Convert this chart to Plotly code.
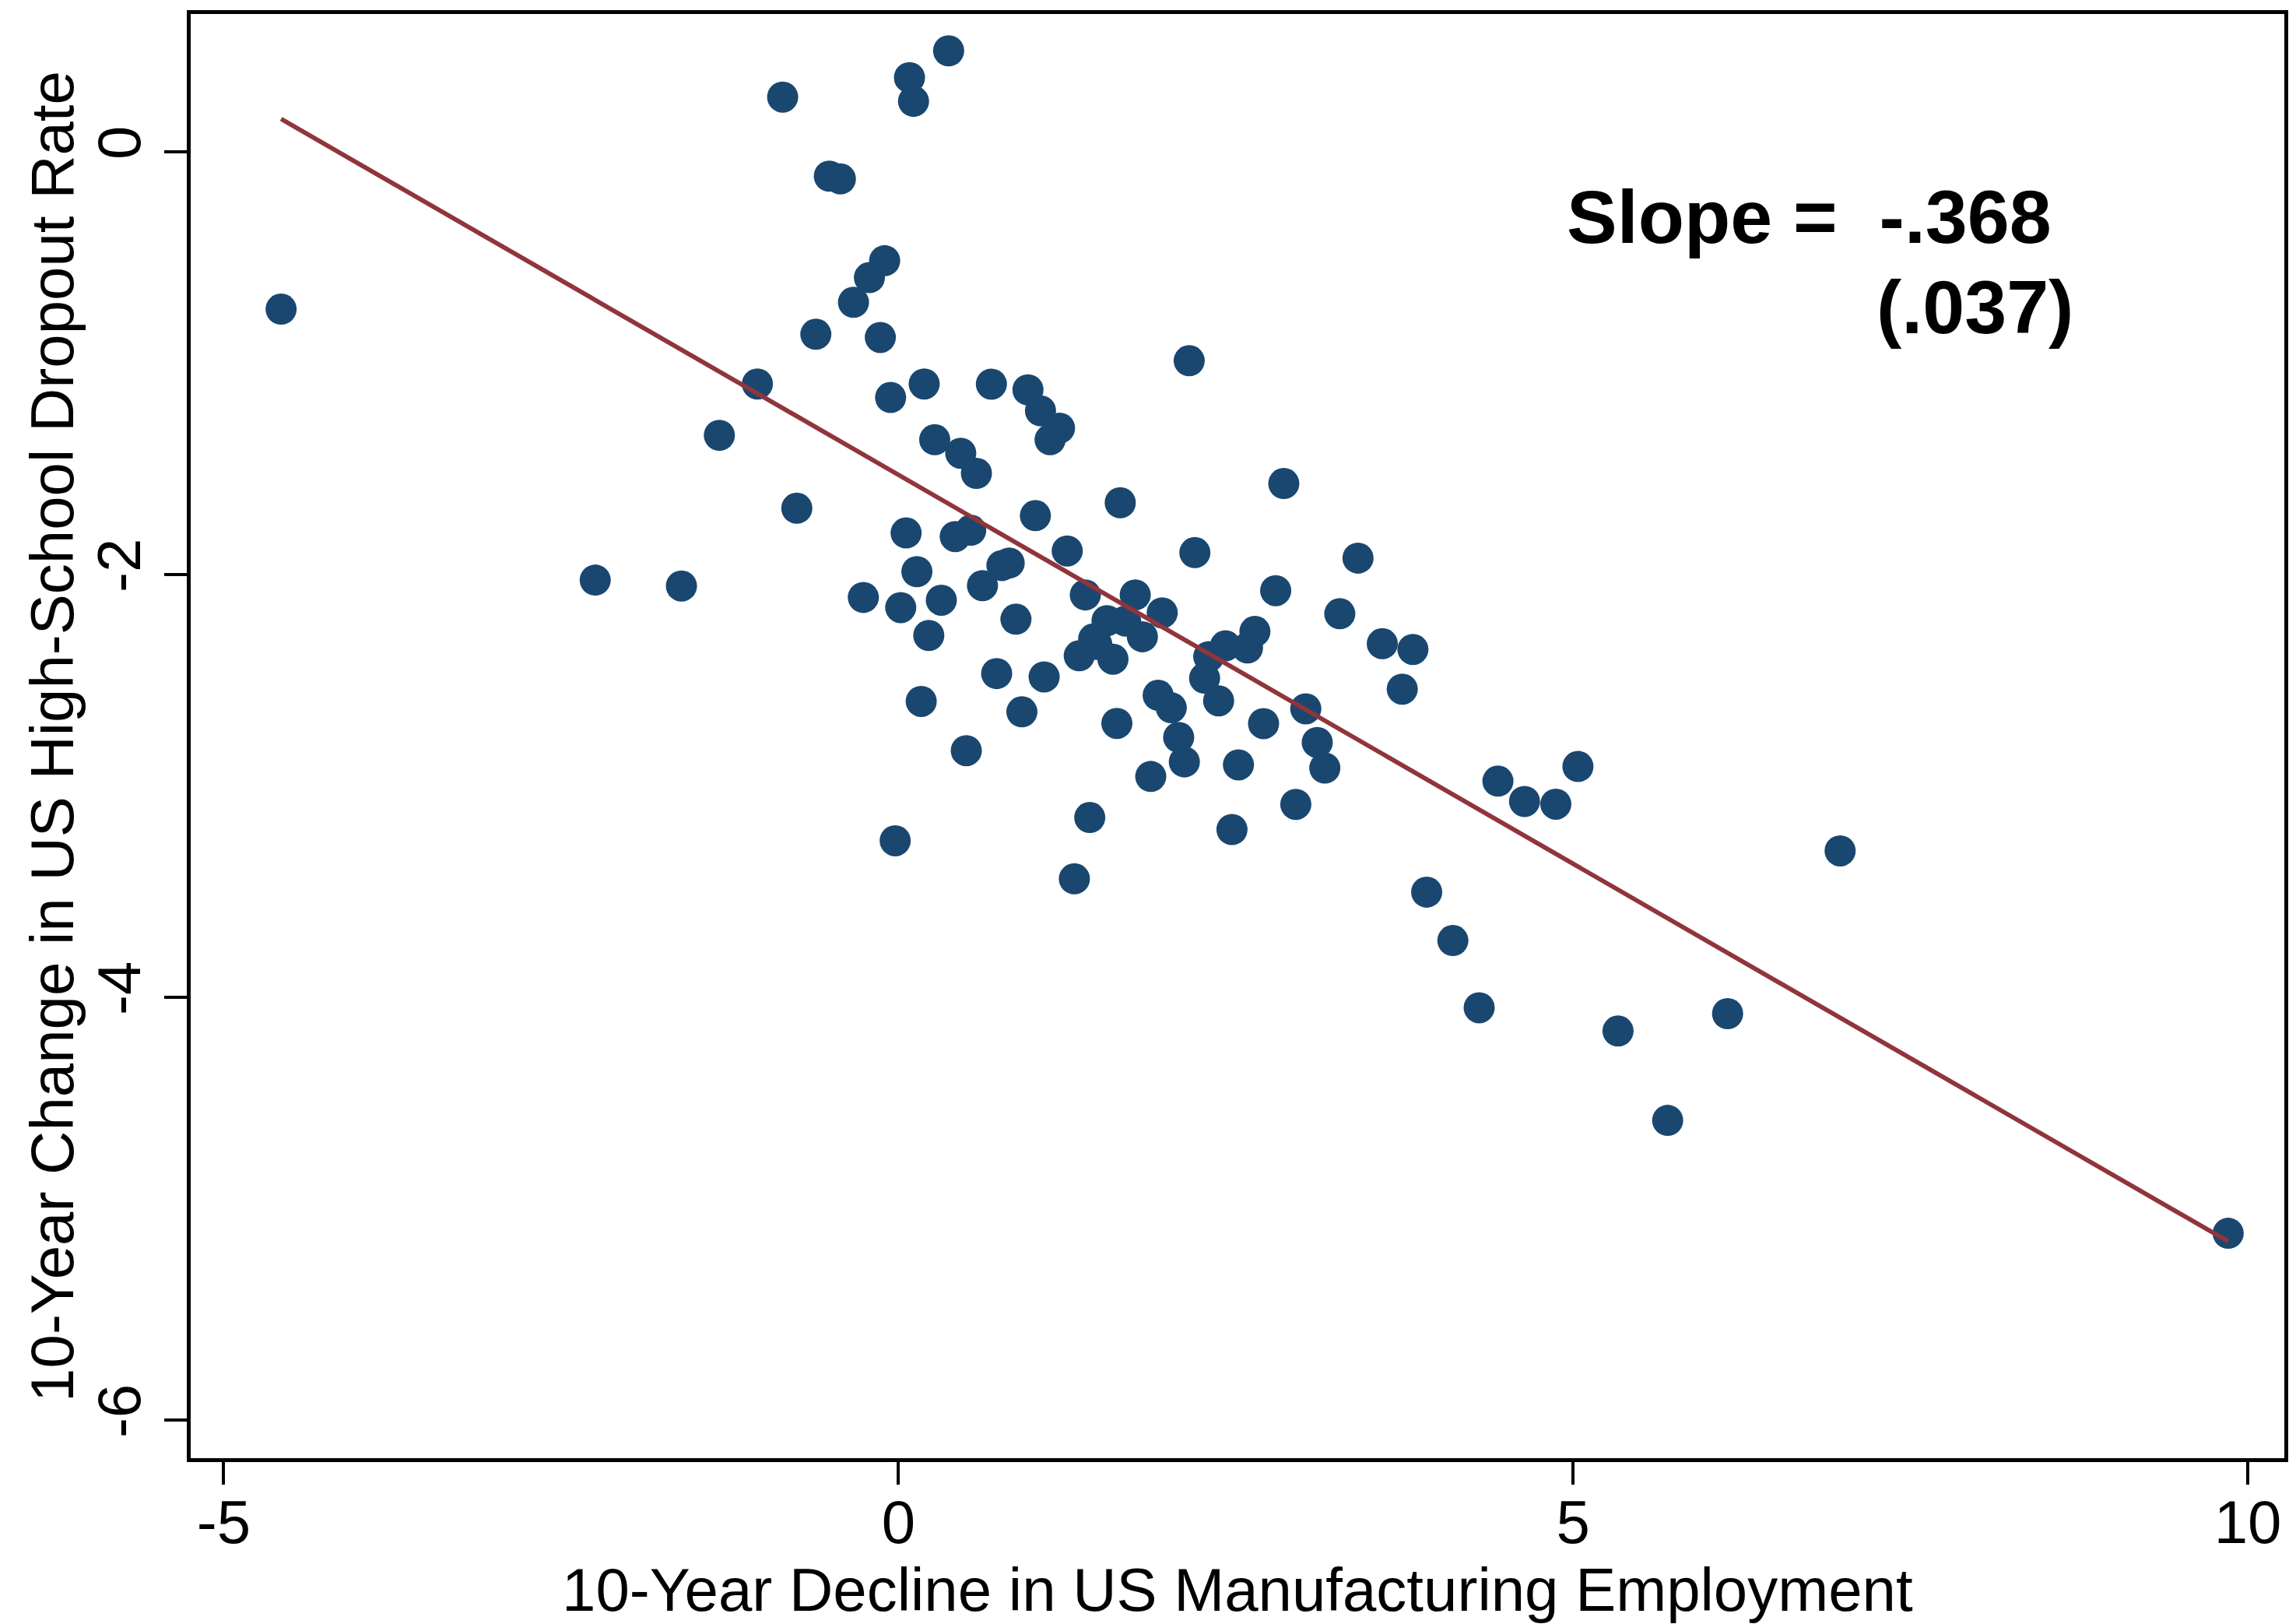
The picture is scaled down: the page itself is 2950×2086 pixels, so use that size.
import plotly.graph_objects as go

# Decline in manufacturing employment (x) vs change in dropout rate (y)
mfg_decline = [
    -4.575, -2.247, -1.608, -1.327, -1.045, -0.858, -0.753, -0.612, -0.512, -0.430,
    -0.333, -0.215, -0.134, -0.102, -0.058, -0.260, -0.024, 0.017, 0.057, 0.082,
    0.112, 0.137, 0.169, 0.191, 0.225, 0.269, 0.318, 0.372, 0.421, 0.462,
    0.503, 0.536, 0.578, 0.623, 0.689, 0.728, 0.767, 0.821, 0.871, 0.915,
    0.960, 1.015, 1.053, 1.080, 1.124, 1.194, 1.251, 1.304, 1.340, 1.385,
    1.418, 1.447, 1.470, 1.546, 1.590, 1.619, 1.644, 1.684, 1.755, 1.808,
    1.870, 1.925, 1.955, 2.022, 2.077, 2.119, 2.155, 2.197, 2.269, 2.300,
    2.373, 2.424, 2.472, 2.520, 2.587, 2.642, 2.706, 2.796, 2.856, 2.945,
    3.019, 3.104, 3.160, 3.271, 3.406, 3.586, 3.734, 3.813, 3.915, 4.109,
    4.304, 4.443, 4.640, 4.872, 5.036, 5.333, 5.701, 6.145, 6.979, 9.855,
]
dropout_change = [
    -0.744, -2.026, -2.054, -1.341, -1.098, 0.259, -1.686, -0.863, -0.115, -0.128,
    -0.712, -0.595, -0.878, -0.515, -1.162, -2.108, -3.259, -2.156, -1.803, 0.351,
    0.239, -1.986, -2.600, -1.098, -2.288, -1.362, -2.121, 0.478, -1.820, -1.426,
    -2.833, -1.790, -1.521, -2.052, -1.099, -2.468, -1.957, -1.945, -2.211, -2.649,
    -1.126, -1.721, -1.225, -2.484, -1.362, -1.307, -1.888, -3.439, -2.384, -2.096,
    -3.149, -2.304, -2.330, -2.218, -2.400, -2.704, -1.660, -2.220, -2.096, -2.294,
    -2.955, -2.571, -2.181, -2.630, -2.770, -2.886, -0.988, -1.896, -2.490, -2.388,
    -2.597, -2.337, -3.206, -2.900, -2.347, -2.269, -2.705, -2.076, -1.569, -3.087,
    -2.635, -2.794, -2.915, -2.185, -1.922, -2.327, -2.542, -2.354, -3.502, -3.731,
    -4.049, -2.977, -3.073, -3.086, -2.908, -4.159, -4.582, -4.077, -3.307, -5.116,
]

# OLS fit reported on the chart
slope = -0.368
std_err = 0.037
intercept = -1.528

x_ticks = [-5, 0, 5, 10]
y_ticks = [-6, -4, -2, 0]

x_title = "10-Year Decline in US Manufacturing Employment"
y_title = "10-Year Change in US High-School Dropout Rate"

FONT = "Liberation Sans, Arial, Helvetica, sans-serif"
NAVY = "#1a476f"
MAROON = "#90353b"

fit_x = [min(mfg_decline), max(mfg_decline)]
fit_y = [intercept + slope * v for v in fit_x]

fig = go.Figure()
fig.add_trace(go.Scatter(
    x=mfg_decline, y=dropout_change, mode="markers",
    marker=dict(size=40, color=NAVY, line=dict(width=0)),
    showlegend=False, hoverinfo="skip",
))
fig.add_trace(go.Scatter(
    x=fit_x, y=fit_y, mode="lines",
    line=dict(color=MAROON, width=5.8),
    showlegend=False, hoverinfo="skip",
))

axis_common = dict(
    showgrid=False, zeroline=False,
    showline=True, linecolor="black", linewidth=5, mirror=True,
    ticks="outside", ticklen=29, tickwidth=3.5, tickcolor="black",
    tickfont=dict(family=FONT, size=78, color="black"),
)

fig.update_xaxes(
    range=[-5.245, 10.271], tickvals=x_ticks, ticktext=[str(v) for v in x_ticks],
    ticklabelstandoff=-19,
    **axis_common,
)
fig.update_yaxes(
    range=[-6.180, 0.652], tickvals=y_ticks, ticktext=[str(v) for v in y_ticks],
    tickangle=-90,
    **axis_common,
)

# Axis titles
fig.add_annotation(
    x=0.5, y=-0.0911, xref="paper", yref="paper", xanchor="center", yanchor="middle",
    text=x_title, showarrow=False, font=dict(family=FONT, size=78, color="black"),
)
fig.add_annotation(
    x=-0.0664, y=0.5, xref="paper", yref="paper", xanchor="center", yanchor="middle",
    text=y_title, textangle=-90, showarrow=False,
    font=dict(family=FONT, size=78, color="black"),
)

# Slope and standard error
fig.add_annotation(
    x=4.94, y=-0.306, xref="x", yref="y", xanchor="left", yanchor="middle",
    text="<b>Slope =  %s</b>" % ("%.3f" % slope).replace("0.", "."),
    showarrow=False, font=dict(family=FONT, size=97, color="black"),
)
fig.add_annotation(
    x=7.237, y=-0.733, xref="x", yref="y", xanchor="left", yanchor="middle",
    text="<b>(%s)</b>" % ("%.3f" % std_err).lstrip("0"),
    showarrow=False, font=dict(family=FONT, size=97, color="black"),
)

fig.update_layout(
    width=2950, height=2086, autosize=False,
    margin=dict(l=245, r=10, t=18, b=213),
    paper_bgcolor="white", plot_bgcolor="white",
)

fig.write_html("out.html")
